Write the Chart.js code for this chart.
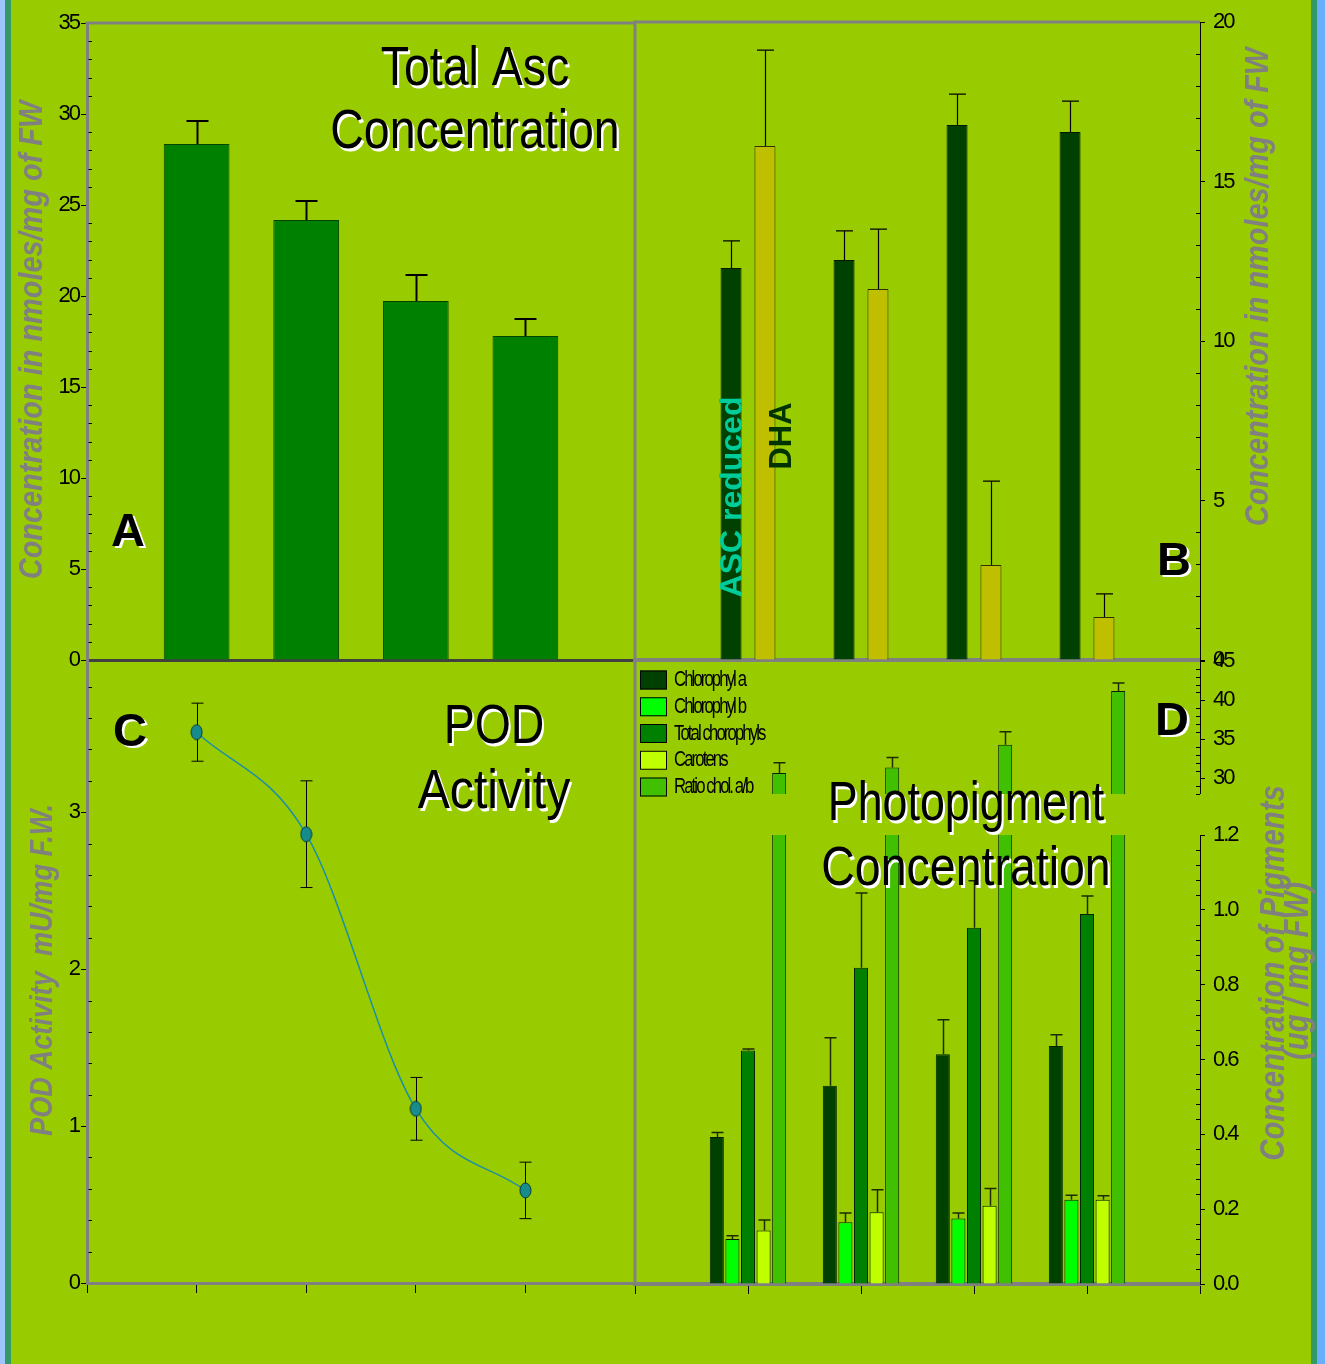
<!DOCTYPE html>
<html lang="en">
<head>
<meta charset="utf-8">
<title>Ascorbate, POD activity and photopigments</title>
<script src="https://cdn.jsdelivr.net/npm/chart.js@4.4.1/dist/chart.umd.min.js"></script>
<style>
  html, body { margin: 0; padding: 0; }
  body {
    width: 1325px; height: 1364px; position: relative; overflow: hidden;
    background: linear-gradient(to right,
      #9dc6ff 0px, #9dc6ff 5px,
      #339966 5px, #339966 11px,
      #99cc00 11px, #99cc00 1311px,
      #339966 1311px, #339966 1317px,
      #6aaeff 1317px, #6aaeff 1325px);
  }
  canvas { position: absolute; }
</style>
</head>
<body>
<canvas id="panelA" width="660" height="700" style="left:0;top:0"></canvas>
<canvas id="panelB" width="725" height="700" style="left:600px;top:0"></canvas>
<canvas id="panelC" width="660" height="724" style="left:0;top:640px"></canvas>
<canvas id="panelDLow" width="725" height="724" style="left:600px;top:640px"></canvas>
<canvas id="panelDHigh" width="725" height="724" style="left:600px;top:640px"></canvas>
<script>
// ---------------- data ----------------
const groups = ['G1', 'G2', 'G3', 'G4'];

// A: total ascorbate (nmoles/mg FW)
const totalAsc    = [28.35, 24.18, 19.73, 17.80];
const totalAscErr = [1.27, 1.04, 1.42, 0.94];

// B: reduced ascorbate and dehydroascorbate (nmoles/mg FW)
const ascReduced    = [12.29, 12.54, 16.77, 16.55];
const ascReducedErr = [0.85, 0.91, 0.97, 0.97];
const dha           = [16.11, 11.63, 2.98, 1.35];
const dhaErr        = [3.01, 1.88, 2.63, 0.72];

// C: POD activity (mU/mg F.W.)
const podActivity = [3.51, 2.86, 1.11, 0.59];
const podErr      = [0.185, 0.34, 0.20, 0.18];

// D: photopigments (ug/mg FW) and chlorophyll a/b ratio
const chlA        = [0.393, 0.530, 0.614, 0.636];
const chlAErr     = [0.012, 0.128, 0.092, 0.030];
const chlB        = [0.120, 0.165, 0.175, 0.225];
const chlBErr     = [0.009, 0.025, 0.015, 0.012];
const totalChl    = [0.624, 0.845, 0.952, 0.989];
const totalChlErr = [0.004, 0.200, 0.126, 0.048];
const carotenes   = [0.143, 0.192, 0.209, 0.225];
const carotenesErr= [0.028, 0.060, 0.046, 0.011];
const ratioAB     = [30.7, 31.4, 34.3, 41.2];
const ratioABErr  = [1.3, 1.27, 1.66, 1.0];
const pigmentNames = ['Chlorophyl a', 'Chlorophyl b', 'Total chorophyls', 'Carotens', 'Ratio chol. a/b'];

// tick labels
const ascTicks     = [0, 5, 10, 15, 20, 25, 30, 35];
const splitTicks   = [0, 5, 10, 15, 20];
const podTicks     = [0, 1, 2, 3];
const pigmentTicks = [0, 0.2, 0.4, 0.6, 0.8, 1.0, 1.2];
const ratioTicks   = [30, 35, 40, 45];

// ---------------- helpers ----------------
const slots = ['', ...groups, ''];
const pad = arr => [null, ...arr, null];
const FONT = '"Liberation Sans", Arial, sans-serif';
Chart.defaults.font.family = FONT;
Chart.defaults.color = '#000';

function baseOptions(padding) {
  return {
    responsive: false, animation: false, devicePixelRatio: 1, events: [],
    layout: { autoPadding: false, padding },
    plugins: { legend: { display: false }, tooltip: { enabled: false }, title: { display: false } }
  };
}

function valueAxis({ min, max, majors, side, width, fmt }) {
  const left = side === 'left';
  return {
    type: 'linear', position: side, min, max,
    afterBuildTicks: s => { s.ticks = majors.map(v => ({ value: v })); },
    afterFit: s => { s.width = width; },
    ticks: { autoSkip: false, padding: left ? 2 : 8, font: { size: 22 }, color: '#000',
             callback: fmt || (v => String(v)) },
    grid: { drawOnChartArea: false, drawTicks: true, tickLength: left ? 6 : 5, tickColor: '#000', tickWidth: 1 },
    border: { display: true, color: left ? '#808080' : '#000', width: left ? 3 : 1 }
  };
}

function slotAxis({ height = 0, tickLength = 0, color = '#808080', width = 3, display = true }) {
  return {
    type: 'category', display, offset: false,
    afterFit: s => { s.height = height; },
    ticks: { display: false, autoSkip: false },
    grid: { offset: false, drawOnChartArea: false, drawTicks: tickLength > 0, tickLength,
            tickColor: '#000', tickWidth: 1 },
    border: { display: true, color, width }
  };
}

// ---------------- plugins ----------------
const tightLabels = { id: 'tightLabels', beforeDraw(chart) { chart.ctx.letterSpacing = '-2px'; } };

function frameLines(sides) {
  return {
    id: 'frameLines',
    afterDraw(chart) {
      const { ctx, chartArea: a } = chart;
      ctx.save();
      ctx.strokeStyle = '#808080'; ctx.lineWidth = 3;
      ctx.beginPath();
      if (sides.top) { ctx.moveTo(a.left - 1.5, a.top); ctx.lineTo(a.right, a.top); }
      if (sides.right) { ctx.moveTo(a.right, a.top - 1.5); ctx.lineTo(a.right, a.bottom + (sides.extend || 0)); }
      ctx.stroke();
      ctx.restore();
    }
  };
}

function minorTicks(axisId, step, majors) {
  return {
    id: 'minorTicks',
    afterDraw(chart) {
      const s = chart.scales[axisId], a = chart.chartArea, ctx = chart.ctx;
      const onLeft = s.position === 'left';
      const n = Math.floor((s.max - s.min) / step + 1e-6);
      ctx.save();
      ctx.strokeStyle = '#000'; ctx.lineWidth = 1;
      ctx.beginPath();
      for (let i = 0; i <= n; i++) {
        const v = s.min + i * step;
        if (majors.some(m => Math.abs(m - v) < step / 10)) continue;
        const y = Math.round(s.getPixelForValue(v)) + 0.5;
        if (onLeft) { ctx.moveTo(a.left + 1.5, y); ctx.lineTo(a.left + 5, y); }
        else { ctx.moveTo(a.right - 4, y); ctx.lineTo(a.right, y); }
      }
      ctx.stroke();
      ctx.restore();
    }
  };
}

function errorBars(style) {
  const draw = chart => {
    const { ctx, chartArea: a } = chart;
    ctx.save();
    ctx.beginPath(); ctx.rect(a.left, a.top - 1, a.right - a.left, a.bottom - a.top + 1); ctx.clip();
    ctx.strokeStyle = style.color || '#000';
    ctx.lineWidth = style.width || 1;
    chart.data.datasets.forEach((ds, i) => {
      if (!ds.errors) return;
      const meta = chart.getDatasetMeta(i);
      const ys = chart.scales[meta.yAxisID];
      meta.data.forEach((el, j) => {
        const v = ds.data[j], e = ds.errors[j];
        if (v == null || e == null) return;
        const x = Math.round(el.x) + 0.5;
        const hi = ys.getPixelForValue(v + e);
        const lo = ys.getPixelForValue(style.both ? v - e : v);
        const c = style.cap / 2;
        ctx.beginPath();
        ctx.moveTo(x, lo); ctx.lineTo(x, hi);
        ctx.moveTo(x - c, hi); ctx.lineTo(x + c, hi);
        if (style.both) { ctx.moveTo(x - c, lo); ctx.lineTo(x + c, lo); }
        ctx.stroke();
      });
    });
    ctx.restore();
  };
  return style.under ? { id: 'errorBars', beforeDatasetsDraw: draw } : { id: 'errorBars', afterDatasetsDraw: draw };
}

function panelText(items) {
  return {
    id: 'panelText',
    afterDraw(chart) {
      const ctx = chart.ctx;
      items.forEach(t => {
        ctx.save();
        ctx.translate(t.x, t.y);
        if (t.rot) ctx.rotate(t.rot * Math.PI / 180);
        if (t.sx) ctx.scale(t.sx, 1);
        ctx.font = t.font;
        ctx.letterSpacing = t.spacing || '0px';
        ctx.textAlign = 'center';
        ctx.textBaseline = 'middle';
        if (t.shadow) { ctx.fillStyle = '#fff'; ctx.fillText(t.text, 2.5, 2.5); }
        ctx.fillStyle = t.color || '#000';
        ctx.fillText(t.text, 0, 0);
        ctx.restore();
      });
    }
  };
}

function boxLegend(cfg) {
  return {
    id: 'boxLegend',
    afterDraw(chart) {
      const ctx = chart.ctx;
      chart.data.datasets.forEach((ds, i) => {
        const cy = cfg.y + i * cfg.row;
        ctx.save();
        ctx.fillStyle = ds.backgroundColor;
        ctx.fillRect(cfg.x, cy - cfg.boxH / 2, cfg.boxW, cfg.boxH);
        ctx.strokeStyle = '#000'; ctx.lineWidth = 1;
        ctx.strokeRect(cfg.x + 0.5, cy - cfg.boxH / 2 + 0.5, cfg.boxW - 1, cfg.boxH - 1);
        ctx.translate(cfg.x + cfg.boxW + cfg.gap, cy);
        ctx.scale(cfg.sx, 1);
        ctx.font = cfg.font;
        ctx.letterSpacing = cfg.spacing;
        ctx.textAlign = 'left'; ctx.textBaseline = 'middle';
        ctx.fillStyle = '#000';
        ctx.fillText(ds.label, 0, 0);
        ctx.restore();
      });
    }
  };
}

function ellipseMarker(w, h, fill, stroke) {
  const c = document.createElement('canvas');
  c.width = w + 2; c.height = h + 2;
  const g = c.getContext('2d');
  g.beginPath();
  g.ellipse(c.width / 2, c.height / 2, w / 2, h / 2, 0, 0, Math.PI * 2);
  g.fillStyle = fill; g.fill();
  g.lineWidth = 1; g.strokeStyle = stroke; g.stroke();
  return c;
}

const titleFont = `56px ${FONT}`;
const letterFont = `bold 47px ${FONT}`;
const axisTitleFont = size => `italic bold ${size}px ${FONT}`;
const GRAY = '#808080';

// ---------------- Panel A: total ascorbate ----------------
new Chart(document.getElementById('panelA'), {
  type: 'bar',
  data: {
    labels: slots,
    datasets: [{
      label: 'Total Asc', data: pad(totalAsc), errors: pad(totalAscErr),
      backgroundColor: '#008000', borderColor: '#004400', borderWidth: 1,
      categoryPercentage: 1, barPercentage: 0.6
    }]
  },
  options: Object.assign(baseOptions({ left: 0, top: 23, right: 25, bottom: 30 }), {
    scales: {
      x: slotAxis({ height: 10, color: '#404040', width: 3 }),
      y: valueAxis({ min: 0, max: 35, majors: ascTicks, side: 'left', width: 87 })
    }
  }),
  plugins: [
    tightLabels,
    frameLines({ top: true, right: true }),
    minorTicks('y', 1, ascTicks),
    errorBars({ cap: 22, width: 2 }),
    panelText([
      { text: 'Total Asc', x: 475, y: 70, font: titleFont, sx: 0.83, shadow: true },
      { text: 'Concentration', x: 475, y: 133, font: titleFont, sx: 0.83, shadow: true },
      { text: 'A', x: 128, y: 533, font: letterFont, shadow: true },
      { text: 'Concentration in nmoles/mg of FW', x: 33, y: 340, rot: -90, sx: 0.85,
        font: axisTitleFont(34), color: GRAY }
    ])
  ]
});

// ---------------- Panel B: reduced ASC and DHA ----------------
new Chart(document.getElementById('panelB'), {
  type: 'bar',
  data: {
    labels: slots,
    datasets: [
      { label: 'ASC reduced', data: pad(ascReduced), errors: pad(ascReducedErr),
        backgroundColor: '#004000', borderColor: '#001a00', borderWidth: 1,
        categoryPercentage: 0.6, barPercentage: 0.62 },
      { label: 'DHA', data: pad(dha), errors: pad(dhaErr),
        backgroundColor: '#bfbf00', borderColor: '#2a3300', borderWidth: 1,
        categoryPercentage: 0.6, barPercentage: 0.62 }
    ]
  },
  options: Object.assign(baseOptions({ left: 35, top: 22, right: 85, bottom: 30 }), {
    scales: {
      x: slotAxis({ height: 10, color: GRAY, width: 4 }),
      y: valueAxis({ min: 0, max: 20, majors: splitTicks, side: 'right', width: 40 })
    }
  }),
  plugins: [
    tightLabels,
    frameLines({ top: true }),
    minorTicks('y', 1, splitTicks),
    errorBars({ cap: 17, width: 1.2 }),
    panelText([
      { text: 'B', x: 574, y: 562, font: letterFont, shadow: true },
      { text: 'ASC reduced', x: 133, y: 497, rot: -90, font: `bold 32px ${FONT}`, color: '#00cc99' },
      { text: 'DHA', x: 182, y: 436, rot: -90, font: `bold 31px ${FONT}`, color: '#003300' },
      { text: 'Concentration in nmoles/mg of FW', x: 659, y: 287, rot: -90, sx: 0.85,
        font: axisTitleFont(34), color: GRAY }
    ])
  ]
});

// ---------------- Panel C: POD activity ----------------
new Chart(document.getElementById('panelC'), {
  type: 'line',
  data: {
    labels: slots,
    datasets: [{
      label: 'POD Activity', data: pad(podActivity), errors: pad(podErr),
      borderColor: '#1f8fa3', borderWidth: 1.5, fill: false,
      cubicInterpolationMode: 'monotone',
      pointStyle: ellipseMarker(11, 15, '#168c8c', '#07333d'), pointRadius: 6
    }]
  },
  options: Object.assign(baseOptions({ left: 0, top: 20, right: 25, bottom: 69 }), {
    scales: {
      x: slotAxis({ height: 12, tickLength: 10, color: GRAY, width: 3 }),
      y: valueAxis({ min: 0, max: 3.97, majors: podTicks, side: 'left', width: 87 })
    }
  }),
  plugins: [
    tightLabels,
    frameLines({ right: true, extend: 2 }),
    minorTicks('y', 0.2, podTicks),
    errorBars({ cap: 12, width: 1, both: true, under: true }),
    panelText([
      { text: 'C', x: 130, y: 93, font: letterFont, shadow: true },
      { text: 'POD', x: 494, y: 88, font: titleFont, sx: 0.83, shadow: true },
      { text: 'Activity', x: 494, y: 153, font: titleFont, sx: 0.86, shadow: true },
      { text: 'POD Activity  mU/mg F.W.', x: 43, y: 330, rot: -90, sx: 0.85,
        font: axisTitleFont(32), color: GRAY }
    ])
  ]
});

// ---------------- Panel D: photopigments (broken axis) ----------------
function pigmentDatasets() {
  const series = [
    [chlA, chlAErr, '#004000'],
    [chlB, chlBErr, '#00ff00'],
    [totalChl, totalChlErr, '#008000'],
    [carotenes, carotenesErr, '#c0ff00'],
    [ratioAB, ratioABErr, '#40c000']
  ];
  return series.map(([vals, errs, color], i) => ({
    label: pigmentNames[i], data: pad(vals), errors: pad(errs),
    backgroundColor: color, borderColor: '#002200', borderWidth: 1,
    categoryPercentage: 0.69, barPercentage: 0.9
  }));
}
const dErrStyle = { cap: 12, width: 1.5, color: '#1d2b00' };

// lower part: pigment concentrations 0 - 1.2
new Chart(document.getElementById('panelDLow'), {
  type: 'bar',
  data: { labels: slots, datasets: pigmentDatasets() },
  options: Object.assign(baseOptions({ left: 35, top: 195, right: 85, bottom: 68 }), {
    scales: {
      x: slotAxis({ height: 12, tickLength: 10, color: GRAY, width: 4 }),
      y: valueAxis({ min: 0, max: 1.2, majors: pigmentTicks, side: 'right', width: 40,
                     fmt: v => v.toFixed(1) })
    }
  }),
  plugins: [tightLabels, minorTicks('y', 0.04, pigmentTicks), errorBars(dErrStyle)]
});

// upper part: chlorophyll a/b ratio 28 - 45
new Chart(document.getElementById('panelDHigh'), {
  type: 'bar',
  data: { labels: slots, datasets: pigmentDatasets() },
  options: Object.assign(baseOptions({ left: 35, top: 20, right: 85, bottom: 570 }), {
    scales: {
      x: slotAxis({ display: false }),
      y: valueAxis({ min: 28, max: 45, majors: ratioTicks, side: 'right', width: 40 })
    }
  }),
  plugins: [
    tightLabels,
    minorTicks('y', 1, ratioTicks),
    errorBars(dErrStyle),
    boxLegend({ x: 40, y: 40, row: 26.75, boxW: 27, boxH: 19, gap: 7, sx: 0.76,
                font: `22px ${FONT}`, spacing: '-2.5px' }),
    panelText([
      { text: 'D', x: 572, y: 82, font: letterFont, shadow: true },
      { text: 'Photopigment', x: 366, y: 165, font: titleFont, sx: 0.8, shadow: true },
      { text: 'Concentration', x: 366, y: 230, font: titleFont, sx: 0.83, shadow: true },
      { text: 'Concentration of Pigments', x: 674, y: 333, rot: -90, sx: 0.84,
        font: axisTitleFont(35), color: GRAY },
      { text: '(ug / mg FW)', x: 698, y: 331, rot: -90, sx: 0.84,
        font: axisTitleFont(35), color: GRAY }
    ])
  ]
});
</script>
</body>
</html>
